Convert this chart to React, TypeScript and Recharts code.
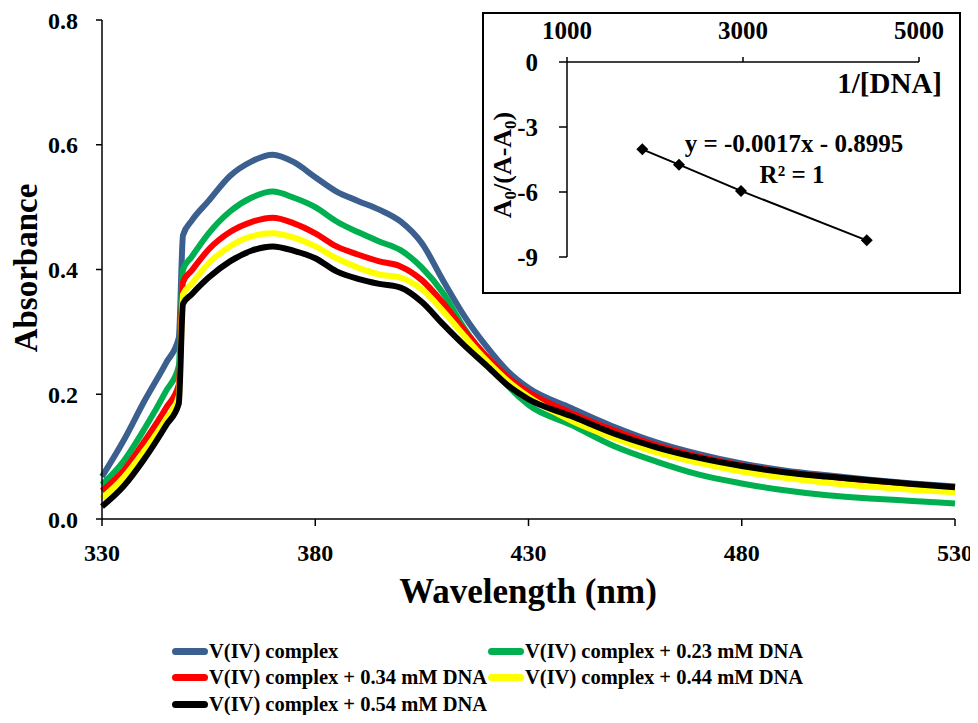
import React from "react";
import { LineChart, Line, XAxis, YAxis, Label } from "recharts";

// wavelength (nm) sampled along the spectra
const wavelengths = [
  330, 335, 340, 345, 348, 349, 351, 355, 360, 365, 370, 375, 380, 385, 390,
  395, 400, 405, 410, 415, 420, 425, 430, 440, 450, 460, 470, 480, 490, 500,
  510, 520, 530,
];

const complexOnly = [
  0.068, 0.125, 0.19, 0.25, 0.29, 0.455, 0.478, 0.51, 0.55, 0.573, 0.584,
  0.572, 0.548, 0.525, 0.51, 0.496, 0.477, 0.442, 0.382, 0.325, 0.278, 0.238,
  0.21, 0.178, 0.148, 0.123, 0.104, 0.089, 0.078, 0.07, 0.063, 0.057, 0.052,
];
const dna023 = [
  0.055, 0.092, 0.145, 0.205, 0.245, 0.4, 0.42, 0.458, 0.493, 0.515, 0.525,
  0.515, 0.5, 0.477, 0.46, 0.445, 0.431, 0.403, 0.362, 0.305, 0.258, 0.215,
  0.183, 0.151, 0.117, 0.092, 0.071, 0.057, 0.046, 0.038, 0.033, 0.029, 0.025,
];
const dna034 = [
  0.045, 0.077, 0.125, 0.178, 0.215, 0.38, 0.398, 0.432, 0.46, 0.476, 0.483,
  0.474, 0.458, 0.437, 0.424, 0.413, 0.405, 0.383, 0.346, 0.302, 0.262, 0.228,
  0.203, 0.17, 0.142, 0.118, 0.1, 0.086, 0.075, 0.068, 0.061, 0.055, 0.05,
];
const dna044 = [
  0.033, 0.066, 0.11, 0.16, 0.197, 0.36, 0.377, 0.41, 0.437, 0.453, 0.458,
  0.451, 0.437, 0.418, 0.403, 0.392, 0.387, 0.368, 0.333, 0.293, 0.255, 0.222,
  0.196, 0.158, 0.13, 0.107, 0.09, 0.076, 0.066, 0.058, 0.052, 0.047, 0.043,
];
const dna054 = [
  0.02, 0.052, 0.097, 0.15, 0.185, 0.345, 0.36, 0.387, 0.413, 0.43, 0.437,
  0.43, 0.418, 0.397, 0.385, 0.377, 0.371, 0.348, 0.312, 0.278, 0.247, 0.215,
  0.192, 0.165, 0.137, 0.115, 0.098, 0.085, 0.075, 0.068, 0.062, 0.056, 0.051,
];

const xTicks = [330, 380, 430, 480, 530];
const yTicks = [0, 0.2, 0.4, 0.6, 0.8];

const seriesNames = [
  "V(IV) complex",
  "V(IV) complex + 0.23 mM DNA",
  "V(IV) complex + 0.34 mM DNA",
  "V(IV) complex + 0.44 mM DNA",
  "V(IV) complex + 0.54 mM DNA",
];
const seriesColors = ["#3B5F8F", "#00B050", "#FF0000", "#FFFF00", "#000000"];
const seriesValues = [complexOnly, dna023, dna034, dna044, dna054];

// inset: Benesi-Hildebrand style plot
const inverseDna = [1856, 2273, 2977, 4406];
const ratio = [-4.03, -4.74, -5.95, -8.23];
const insetXTicks = [1000, 3000, 5000];
const insetYTicks = [0, -3, -6, -9];

const font = "'Liberation Serif', 'Times New Roman', serif";

const spectra = wavelengths.map((wl, i) => {
  const row: Record<string, number> = { wl };
  seriesValues.forEach((vals, k) => {
    row["s" + k] = vals[i];
  });
  return row;
});

const insetData = inverseDna.map((x, i) => ({ x, y: ratio[i] }));

const Diamond = (props: any) => {
  const { cx, cy } = props;
  if (cx == null || cy == null) return null;
  const r = 6;
  return (
    <polygon
      points={`${cx},${cy - r} ${cx + r},${cy} ${cx},${cy + r} ${cx - r},${cy}`}
      fill="#000"
    />
  );
};

const tickStyle = { fill: "#000", fontFamily: font, fontWeight: 700 };

export default function App() {
  return (
    <div
      style={{
        position: "relative",
        width: 978,
        height: 723,
        margin: -8,
        background: "#fff",
        fontFamily: font,
      }}
    >
      <LineChart
        width={978}
        height={723}
        data={spectra}
        margin={{ top: 20, right: 23, left: 0, bottom: 0 }}
      >
        <XAxis
          dataKey="wl"
          type="number"
          domain={[330, 530]}
          ticks={xTicks}
          height={204}
          tickSize={7}
          tickMargin={18}
          axisLine={{ stroke: "#000", strokeWidth: 1.5 }}
          tickLine={{ stroke: "#000", strokeWidth: 1.5 }}
          tick={{ ...tickStyle, fontSize: 24 }}
        >
          <Label
            content={() => (
              <text
                x={528}
                y={603}
                textAnchor="middle"
                fontFamily={font}
                fontWeight={700}
                fontSize={35}
                fill="#000"
              >
                Wavelength (nm)
              </text>
            )}
          />
        </XAxis>
        <YAxis
          type="number"
          domain={[0, 0.8]}
          ticks={yTicks}
          width={102}
          tickSize={6}
          tickMargin={18}
          tickFormatter={(v: number) => v.toFixed(1)}
          axisLine={{ stroke: "#000", strokeWidth: 1.5 }}
          tickLine={{ stroke: "#000", strokeWidth: 1.5 }}
          tick={{ ...tickStyle, fontSize: 24 }}
        >
          <Label
            content={() => (
              <text
                transform="translate(37,268) rotate(-90)"
                textAnchor="middle"
                fontFamily={font}
                fontWeight={700}
                fontSize={33}
                fill="#000"
              >
                Absorbance
              </text>
            )}
          />
        </YAxis>
        {seriesNames.map((name, k) => (
          <Line
            key={name}
            name={name}
            dataKey={"s" + k}
            type="monotone"
            stroke={seriesColors[k]}
            strokeWidth={6}
            dot={false}
            isAnimationActive={false}
          />
        ))}
      </LineChart>

      {/* legend */}
      <div
        style={{
          position: "absolute",
          left: 172,
          top: 638,
          display: "grid",
          gridTemplateColumns: "316px 360px",
          fontSize: 20.5,
          fontWeight: 700,
          color: "#000",
        }}
      >
        {seriesNames.map((name, k) => (
          <div
            key={name}
            style={{ display: "flex", alignItems: "center", height: 26.5 }}
          >
            <span
              style={{
                display: "inline-block",
                width: 36,
                height: 7,
                borderRadius: 4,
                background: seriesColors[k],
                marginRight: 1,
              }}
            />
            <span style={{ whiteSpace: "nowrap" }}>{name}</span>
          </div>
        ))}
      </div>

      {/* inset */}
      <div
        style={{
          position: "absolute",
          left: 482,
          top: 12,
          width: 479,
          height: 282,
          boxSizing: "border-box",
          border: "2.5px solid #000",
          background: "#fff",
        }}
      />
      <div style={{ position: "absolute", left: 483, top: 13 }}>
        <LineChart
          width={477}
          height={280}
          data={insetData}
          margin={{ top: 0, right: 41, left: 0, bottom: 36 }}
        >
          <XAxis
            dataKey="x"
            type="number"
            orientation="top"
            domain={[1000, 5000]}
            ticks={insetXTicks}
            height={49}
            tickSize={5}
            tickMargin={18}
            axisLine={{ stroke: "#000", strokeWidth: 1.5 }}
            tickLine={{ stroke: "#000", strokeWidth: 1.5 }}
            tick={{ ...tickStyle, fontSize: 25 }}
          >
            <Label
              content={() => (
                <text
                  x={459}
                  y={80}
                  textAnchor="end"
                  fontFamily={font}
                  fontWeight={700}
                  fontSize={29}
                  fill="#000"
                >
                  1/[DNA]
                </text>
              )}
            />
          </XAxis>
          <YAxis
            type="number"
            domain={[-9, 0]}
            ticks={insetYTicks}
            width={84}
            tickSize={8}
            tickMargin={21}
            axisLine={{ stroke: "#000", strokeWidth: 1.5 }}
            tickLine={{ stroke: "#000", strokeWidth: 1.5 }}
            tick={{ ...tickStyle, fontSize: 25 }}
          >
            <Label
              content={() => (
                <text
                  transform="translate(28,152) rotate(-90)"
                  textAnchor="middle"
                  fontFamily={font}
                  fontWeight={700}
                  fontSize={26}
                  fill="#000"
                >
                  A
                  <tspan dy={5} fontSize={17}>
                    0
                  </tspan>
                  <tspan dy={-5}>/(A-A</tspan>
                  <tspan dy={5} fontSize={17}>
                    0
                  </tspan>
                  <tspan dy={-5}>)</tspan>
                </text>
              )}
            />
          </YAxis>
          <Line
            dataKey="y"
            type="linear"
            stroke="#000"
            strokeWidth={2}
            dot={<Diamond />}
            isAnimationActive={false}
          />
          <text
            x={311}
            y={139}
            textAnchor="middle"
            fontFamily={font}
            fontWeight={700}
            fontSize={25}
            fill="#000"
          >
            y = -0.0017x - 0.8995
          </text>
          <text
            x={309}
            y={170}
            textAnchor="middle"
            fontFamily={font}
            fontWeight={700}
            fontSize={25}
            fill="#000"
          >
            R² = 1
          </text>
        </LineChart>
      </div>
    </div>
  );
}
